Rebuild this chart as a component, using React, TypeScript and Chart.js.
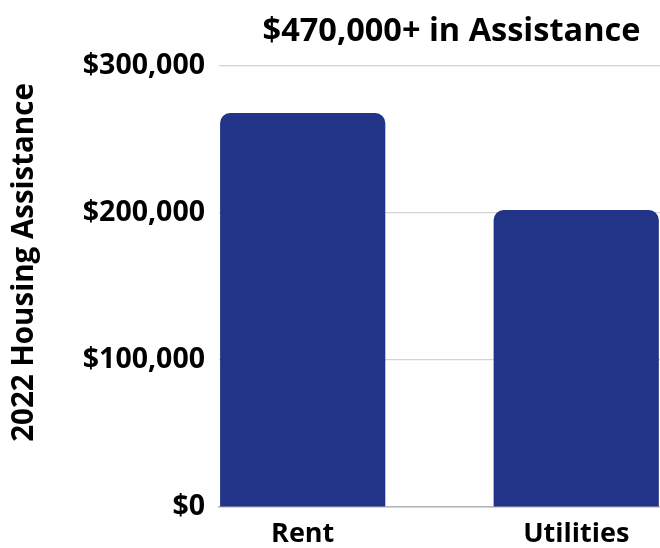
import React, { useEffect, useRef } from "react";
import { Chart, registerables } from "chart.js";

Chart.register(...registerables);

const categories = ["Rent", "Utilities"];
const assistanceValues = [268000, 202000];
const yTickValues = [0, 100000, 200000, 300000];
const chartTitle = "$470,000+ in Assistance";
const yAxisTitle = "2022 Housing Assistance";

const FONT = "'Open Sans', sans-serif";

const yTitlePlugin = {
  id: "yTitlePlugin",
  afterDraw(chart: any) {
    const { ctx, chartArea } = chart;
    const midY = (chartArea.top + chartArea.bottom) / 2 - 24;
    ctx.save();
    ctx.translate(25, midY);
    ctx.rotate(-Math.PI / 2);
    ctx.font = `bold 29.5px ${FONT}`;
    ctx.fillStyle = "#000";
    ctx.textAlign = "center";
    ctx.textBaseline = "middle";
    ctx.fillText(yAxisTitle, 0, 0);
    ctx.restore();
  },
};

export default function App() {
  const ref = useRef<HTMLCanvasElement | null>(null);

  useEffect(() => {
    if (!ref.current) return;
    const chart = new Chart(ref.current, {
      type: "bar",
      data: {
        datasets: [
          {
            label: "Assistance",
            data: assistanceValues.map((v, i) => ({ x: i, y: v })),
            backgroundColor: "#213487",
            borderRadius: 10,
            barPercentage: 0.604,
            categoryPercentage: 1,
          },
        ],
      },
      options: {
        responsive: false,
        animation: false,
        layout: { padding: 0 },
        plugins: {
          legend: { display: false },
          tooltip: { enabled: false },
          title: {
            display: true,
            text: chartTitle,
            fullSize: false,
            color: "#000",
            font: { family: FONT, size: 32.5, weight: "bold", lineHeight: 1.2 },
            padding: { top: 12, bottom: 15 },
          },
        },
        scales: {
          x: {
            type: "linear",
            offset: false,
            bounds: "data",
            min: -0.306,
            max: 1.394,
            afterBuildTicks: (scale: any) => {
              scale.ticks = categories.map((_, i) => ({ value: i }));
            },
            afterFit: (scale: any) => {
              scale.height = 41;
            },
            ticks: {
              callback: (v: any) => categories[v as number] ?? "",
              color: "#000",
              font: { family: FONT, size: 27, weight: "bold" },
              padding: 11,
              maxRotation: 0,
              autoSkip: false,
            },
            grid: { display: false, drawTicks: false },
            border: { display: true, color: "#b5b5b5", width: 1.5 },
          },
          y: {
            min: 0,
            max: 300000,
            afterBuildTicks: (scale: any) => {
              scale.ticks = yTickValues.map((v) => ({ value: v }));
            },
            afterFit: (scale: any) => {
              scale.width = 219;
            },
            ticks: {
              callback: (v: any) => "$" + Number(v).toLocaleString("en-US"),
              color: "#000",
              font: { family: FONT, size: 28.5, weight: "bold" },
              padding: 14,
            },
            grid: { color: "#d4d4d4", lineWidth: 1.2, drawTicks: false },
            border: { display: false },
            title: { display: false },
          },
        },
      },
      plugins: [yTitlePlugin],
    } as any);
    return () => chart.destroy();
  }, []);

  return (
    <div
      style={{
        position: "fixed",
        left: 0,
        top: 0,
        width: 660,
        height: 548,
        overflow: "hidden",
        background: "#fff",
      }}
    >
      <canvas ref={ref} width={684} height={548} />
    </div>
  );
}
